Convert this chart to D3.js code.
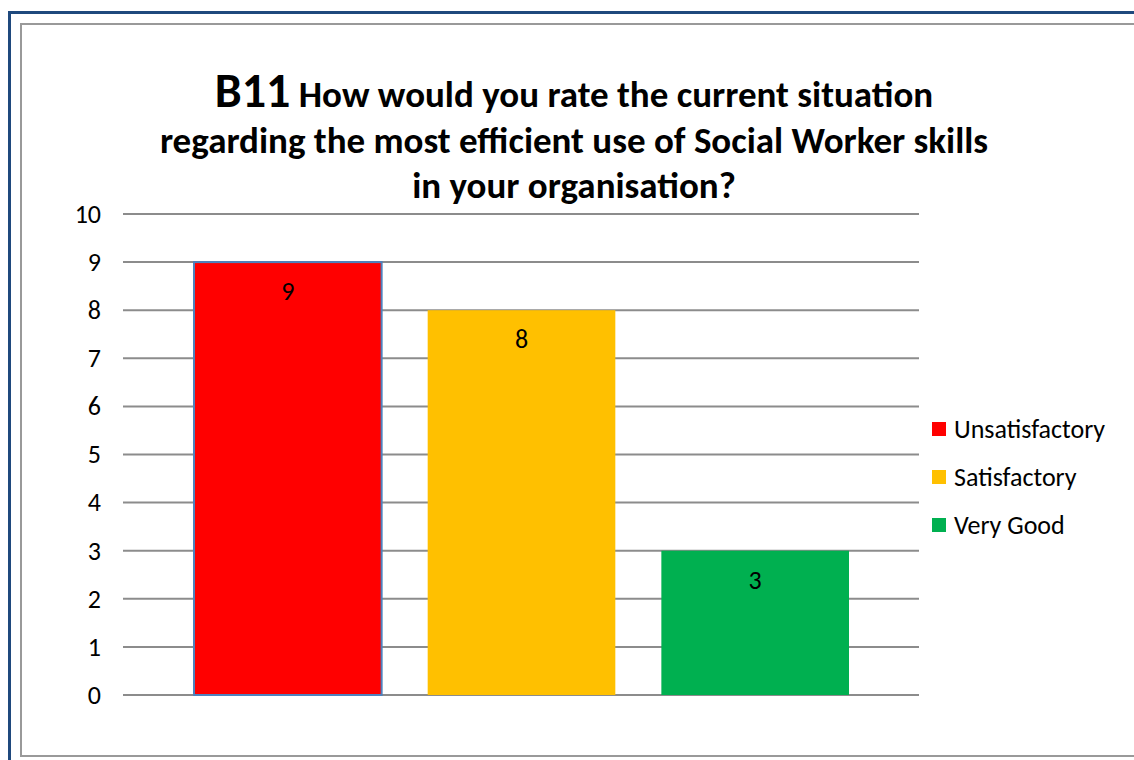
<!DOCTYPE html>
<html>
<head>
<meta charset="utf-8">
<script src="https://cdn.jsdelivr.net/npm/d3@7"></script>
<style>
  body { margin: 0; background: #fff; }
  svg { display: block; font-family: Carlito, Lato, "Liberation Sans", sans-serif; }
</style>
</head>
<body>
<svg id="chart"></svg>
<script>
const series = ["Unsatisfactory", "Satisfactory", "Very Good"];
const values = [9, 8, 3];
const colors = ["#ff0000", "#ffc000", "#00b050"];
const yTicks = [0, 1, 2, 3, 4, 5, 6, 7, 8, 9, 10];

const svg = d3.select("#chart").attr("width", 1134).attr("height", 760);

// cadres
svg.append("rect").attr("x", 9.5).attr("y", 12.5).attr("width", 1140).attr("height", 760)
  .attr("fill", "none").attr("stroke", "#1f497d").attr("stroke-width", 3);
svg.append("rect").attr("x", 21).attr("y", 24).attr("width", 1130).attr("height", 732)
  .attr("fill", "#fff").attr("stroke", "#999").attr("stroke-width", 2);

// titre
const title = svg.append("text").attr("text-anchor", "middle").attr("font-weight", "bold").attr("fill", "#000");
const l1 = title.append("tspan").attr("x", 574).attr("y", 107);
l1.append("tspan").attr("font-size", 48).text("B11");
l1.append("tspan").attr("font-size", 37).text(" How would you rate the current situation");
title.append("tspan").attr("x", 574).attr("y", 153).attr("font-size", 37)
  .text("regarding  the most efficient use of Social Worker skills");
title.append("tspan").attr("x", 574).attr("y", 198).attr("font-size", 37)
  .text("in your organisation?");

const x0 = 123, x1 = 919;
const y = d3.scaleLinear().domain([0, 10]).range([695, 214]);
const x = d3.scaleBand().domain(series).range([x0 + 71, x1 - 70]).paddingInner(0.197);

// grille
svg.append("g").selectAll("line").data(yTicks).join("line")
  .attr("x1", x0).attr("x2", x1)
  .attr("y1", d => y(d)).attr("y2", d => y(d))
  .attr("stroke", "#8c8c8c").attr("stroke-width", 2);

// axe y
const yAxis = svg.append("g").attr("transform", `translate(${x0},0)`)
  .call(d3.axisLeft(y).tickValues(yTicks).tickSize(0).tickPadding(22));
yAxis.select(".domain").remove();
yAxis.attr("font-size", 26).attr("font-family", "Carlito, Lato, sans-serif");
yAxis.selectAll("text").attr("fill", "#000");

// barres
svg.append("g").selectAll("rect").data(values).join("rect")
  .attr("x", (d, i) => x(series[i]))
  .attr("y", d => y(d))
  .attr("width", x.bandwidth())
  .attr("height", d => y(0) - y(d))
  .attr("fill", (d, i) => colors[i])
  .attr("stroke", (d, i) => i === 0 ? "#4f81bd" : "none")
  .attr("stroke-width", 2);

// étiquettes
svg.append("g").selectAll("text").data(values).join("text")
  .attr("x", (d, i) => x(series[i]) + x.bandwidth() / 2)
  .attr("y", d => y(d) + 38)
  .attr("text-anchor", "middle").attr("font-size", 26).attr("fill", "#000")
  .text(d => d);

// légende
const leg = svg.append("g").selectAll("g").data(series).join("g")
  .attr("transform", (d, i) => `translate(932,${422 + i * 48})`);
leg.append("rect").attr("width", 14).attr("height", 14).attr("fill", (d, i) => colors[i]);
leg.append("text").attr("x", 22).attr("y", 16).attr("font-size", 26).attr("fill", "#000").text(d => d);
</script>
</body>
</html>
